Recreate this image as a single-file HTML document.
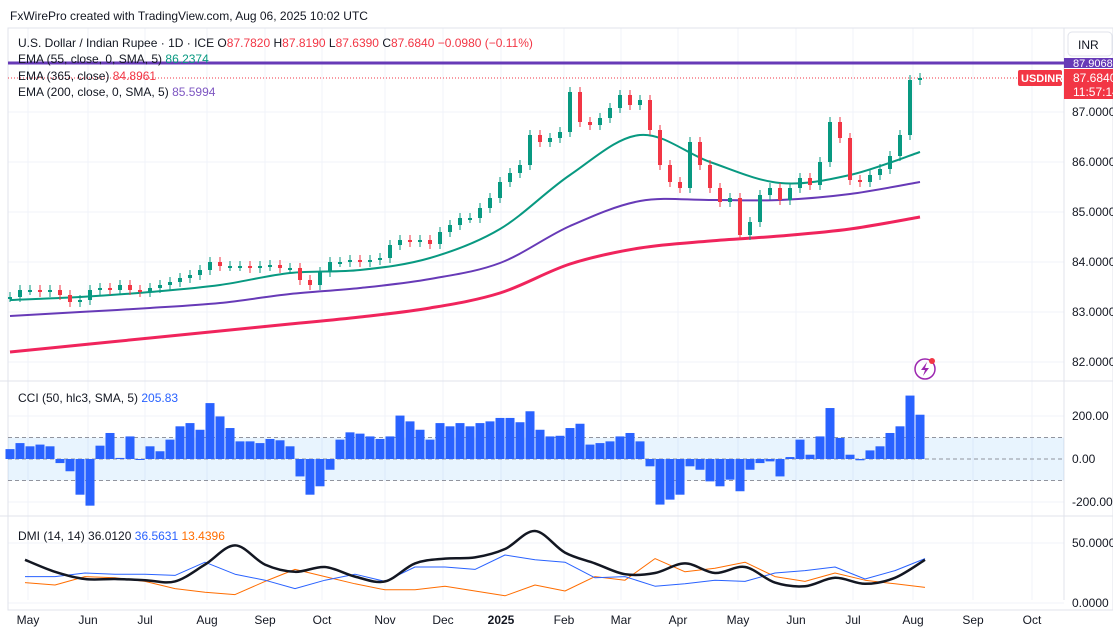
<!DOCTYPE html>
<html><head><meta charset="utf-8">
<style>
body{margin:0;background:#fff;font-family:"Liberation Sans",sans-serif;}
#wrap{position:relative;width:1113px;height:639px;overflow:hidden;}
svg text{font-family:"Liberation Sans",sans-serif;}
</style></head>
<body>
<div id="wrap">
<svg id="c" width="1113" height="639" viewBox="0 0 1113 639">
<rect x="0" y="0" width="1113" height="639" fill="#fff"/>
<text x="10" y="20" font-size="12" fill="#131722">FxWirePro created with TradingView.com, Aug 06, 2025 10:02 UTC</text>
<g id="grid"></g>
<g id="panes"></g>
<g id="marks"></g>
<g id="legend" font-size="12">
<text x="18" y="47" fill="#131722">U.S. Dollar / Indian Rupee · 1D · ICE  <tspan fill="#131722">O</tspan><tspan fill="#f23645">87.7820</tspan>  <tspan fill="#131722">H</tspan><tspan fill="#f23645">87.8190</tspan>  <tspan fill="#131722">L</tspan><tspan fill="#f23645">87.6390</tspan>  <tspan fill="#131722">C</tspan><tspan fill="#f23645">87.6840  −0.0980 (−0.11%)</tspan></text>
<text x="18" y="63" fill="#131722">EMA (55, close, 0, SMA, 5) <tspan fill="#089981">86.2374</tspan></text>
<text x="18" y="80" fill="#131722">EMA (365, close) <tspan fill="#f23645">84.8961</tspan></text>
<text x="18" y="96" fill="#131722">EMA (200, close, 0, SMA, 5) <tspan fill="#7e57c2">85.5994</tspan></text>
<text x="18" y="402" fill="#131722">CCI (50, hlc3, SMA, 5) <tspan fill="#2962ff">205.83</tspan></text>
<text x="18" y="540" fill="#131722">DMI (14, 14) <tspan fill="#131722">36.0120</tspan> <tspan fill="#2962ff">36.5631</tspan> <tspan fill="#ff6d00">13.4396</tspan></text>
</g>
<g id="axis" font-size="12" fill="#131722"></g>
<g>
<rect x="1068" y="32" width="44" height="24" rx="4" fill="#fff" stroke="#e0e3eb"/>
<text x="1078" y="49" font-size="12" fill="#131722">INR</text>
</g>
<g>
<rect x="1018" y="70" width="44" height="16" rx="2" fill="#f23645"/>
<text x="1021" y="82" font-size="11" font-weight="bold" fill="#fff">USDINR</text>
</g>
<g>
<rect x="1064" y="58" width="49" height="10" fill="#673ab7"/>
<text x="1073" y="67" font-size="11" fill="#fff">87.9068</text>
<rect x="1064" y="69" width="49" height="30" fill="#f23645"/>
<text x="1073" y="82" font-size="12" fill="#fff">87.6840</text>
<text x="1073" y="96" font-size="12" fill="#fff">11:57:14</text>
</g>
<g>
<circle cx="925" cy="369" r="10" fill="none" stroke="#9c27b0" stroke-width="1.5"/>
<path d="M927 362 L921 370 L925 370 L923 376 L929 368 L925 368 Z" fill="#9c27b0"/>
<circle cx="932" cy="361" r="3" fill="#f23645"/>
</g>
</svg>
</div>
<script>
const closes=[83.30,83.44,83.44,83.40,83.44,83.34,83.20,83.24,83.44,83.48,83.44,83.54,83.44,83.40,83.48,83.54,83.60,83.68,83.74,83.84,84.00,83.92,83.92,83.92,83.88,83.92,83.94,83.88,83.88,83.64,83.54,83.80,84.00,84.00,84.04,84.00,84.04,84.08,84.34,84.44,84.40,84.44,84.36,84.60,84.74,84.88,84.88,85.08,85.28,85.60,85.78,85.94,86.54,86.40,86.48,86.60,87.40,86.80,86.74,86.88,87.08,87.34,87.14,87.24,86.64,85.94,85.60,85.48,86.40,85.94,85.48,85.20,85.28,84.54,84.80,85.34,85.48,85.24,85.48,85.68,85.54,86.00,86.80,86.48,85.64,85.60,85.74,85.86,86.12,86.54,87.64,87.68];
const ema55=[83.24,83.30,83.40,83.54,83.78,83.84,84.08,84.66,85.74,86.54,86.00,85.58,85.74,86.20];
const ema200=[82.92,83.00,83.08,83.18,83.36,83.48,83.66,83.98,84.72,85.22,85.24,85.24,85.36,85.60];
const ema365=[82.20,82.34,82.48,82.62,82.76,82.90,83.08,83.38,83.96,84.28,84.42,84.52,84.66,84.90];
const cci=[46,74,59,67,59,-19,-57,-166,-217,62,121,5,105,-3,59,36,90,152,167,136,260,198,144,82,82,74,93,87,59,-81,-166,-127,-50,90,124,118,105,93,105,202,175,136,90,167,152,167,152,167,175,191,191,171,222,136,105,108,144,164,67,74,82,105,121,82,-34,-212,-189,-166,-34,-50,-104,-127,-96,-150,-50,-19,-11,-81,9,90,20,105,237,98,20,-6,40,59,121,152,295,206];
const adx=[36,26,20,20,19,18,32,48,32,26,30,22,18,33,37,38,45,60,42,33,24,25,33,25,30,17,14,21,16,21,36];
const diPlus=[22,22,25,24,24,23,34,24,19,12,19,24,18,30,30,28,40,36,34,21,22,14,16,19,18,25,27,30,20,27,37];
const diMinus=[17,15,22,21,18,12,9,7,18,28,22,16,11,11,14,10,6,15,10,22,19,37,26,29,34,22,18,25,19,16,13];
const priceTicks=[87,86,85,84,83,82];
const cciTicks=[200,0,-200];
const dmiTicks=[50,0];
const months=["May","Jun","Jul","Aug","Sep","Oct","Nov","Dec","2025","Feb","Mar","Apr","May","Jun","Jul","Aug","Sep","Oct"];
const monthPos=[28,88,145,207,265,322,385,443,501,564,621,678,738,796,853,913,973,1032];

const NS="http://www.w3.org/2000/svg";
function mk(tag,attrs,parent){const e=document.createElementNS(NS,tag);for(const k in attrs)e.setAttribute(k,attrs[k]);parent.appendChild(e);return e;}
const yP=p=>112+(87-p)*50;
const yC=v=>459-v*0.215;
const yD=v=>603-v*1.2;
const xDay=i=>10+i*10;
const xEma=k=>10+k*70;
const xDmi=k=>25+k*30;
const L=8,R=1064;
const grid=document.getElementById('grid'),panes=document.getElementById('panes'),marks=document.getElementById('marks'),axis=document.getElementById('axis');

monthPos.forEach(x=>{mk('line',{x1:x,x2:x,y1:28,y2:600,stroke:'#f0f3fa'},grid);});
priceTicks.forEach(p=>{mk('line',{x1:L,x2:R,y1:yP(p),y2:yP(p),stroke:'#f0f3fa'},grid);
 const t=mk('text',{x:1072,y:yP(p)+4},axis);t.textContent=p.toFixed(4);
 
 });
[200,-200].forEach(v=>mk('line',{x1:L,x2:R,y1:yC(v),y2:yC(v),stroke:'#f0f3fa'},grid));
dmiTicks.forEach(v=>mk('line',{x1:L,x2:R,y1:yD(v),y2:yD(v),stroke:'#f0f3fa'},grid));
mk('line',{x1:0,x2:1113,y1:381,y2:381,stroke:'#e0e3eb'},panes);
mk('line',{x1:0,x2:1113,y1:516,y2:516,stroke:'#e0e3eb'},panes);
mk('line',{x1:R,x2:R,y1:28,y2:600,stroke:'#e0e3eb'},panes);
mk('rect',{x:L,y:28,width:1105,height:582,fill:'none',stroke:'#e0e3eb'},panes);

mk('rect',{x:L,y:yC(100),width:R-L,height:yC(-100)-yC(100),fill:'#2196f3','fill-opacity':0.1},panes);
[100,0,-100].forEach(v=>mk('line',{x1:L,x2:R,y1:yC(v),y2:yC(v),stroke:'#787b86','stroke-dasharray':'4 3','stroke-opacity':0.8},panes));
cciTicks.forEach(v=>{const t=mk('text',{x:1072,y:yC(v)+4},axis);t.textContent=v.toFixed(2);
 
 });
dmiTicks.forEach(v=>{const t=mk('text',{x:1072,y:yD(v)+4},axis);t.textContent=v.toFixed(4);
 
 });
months.forEach((m,i)=>{const t=mk('text',{x:monthPos[i],y:624,'text-anchor':'middle','font-weight':m==='2025'?'bold':'normal'},axis);t.textContent=m;
 
 });

mk('line',{x1:L,x2:R,y1:63,y2:63,stroke:'#673ab7','stroke-width':3},marks);
mk('line',{x1:L,x2:R,y1:yP(closes[closes.length-1]),y2:yP(closes[closes.length-1]),stroke:'#f23645','stroke-dasharray':'1 2','stroke-width':1},marks);

function smoothPath(pts){let d='M'+pts[0][0].toFixed(1)+' '+pts[0][1].toFixed(1);
 for(let i=0;i<pts.length-1;i++){const p0=pts[Math.max(0,i-1)],p1=pts[i],p2=pts[i+1],p3=pts[Math.min(pts.length-1,i+2)];
  const c1x=p1[0]+(p2[0]-p0[0])/6,c1y=p1[1]+(p2[1]-p0[1])/6,c2x=p2[0]-(p3[0]-p1[0])/6,c2y=p2[1]-(p3[1]-p1[1])/6;
  d+=` C${c1x.toFixed(1)} ${c1y.toFixed(1)} ${c2x.toFixed(1)} ${c2y.toFixed(1)} ${p2[0].toFixed(1)} ${p2[1].toFixed(1)}`;}
 return d;}
function line(arr,xf,yf,color,w,name,smooth){const pts=arr.map((v,i)=>[xf(i),yf(v)]);
 const d=smooth?smoothPath(pts):pts.map((p,i)=>(i?'L':'M')+p[0].toFixed(1)+' '+p[1].toFixed(1)).join(' ');
 const p=mk('path',{d:d,fill:'none',stroke:color,'stroke-width':w,'stroke-linejoin':'round'},marks);
 
 }
line(ema365,xEma,yP,'#f0245c',3,'ema365-line',true);
line(ema200,xEma,yP,'#673ab7',2,'ema200-line',true);
line(ema55,xEma,yP,'#089981',2,'ema55-line',true);

closes.forEach((c,i)=>{const o=i?closes[i-1]:c;const up=c>=o;const col=up?'#089981':'#f23645';
 const x=xDay(i);const y1=yP(Math.max(o,c)),y2=yP(Math.min(o,c));
 const w=mk('line',{x1:x,x2:x,y1:y1-5,y2:y2+5,stroke:col,'stroke-width':1},marks);
 
 
 const b=mk('rect',{x:x-2,y:y1,width:4,height:Math.max(2,y2-y1),fill:col},marks);
 
 });

cci.forEach((v,i)=>{const x=xDay(i)-5;const y=Math.min(yC(v),yC(0));const h=Math.abs(yC(v)-yC(0));
 const r=mk('rect',{x:x+0.5,y:y,width:9,height:Math.max(1,h),fill:'#2962ff'},marks);
 
 });

line(diMinus,xDmi,yD,'#ff6d00',1,'di-minus-line',false);
line(diPlus,xDmi,yD,'#2962ff',1,'di-plus-line',false);
line(adx,xDmi,yD,'#131722',2.5,'adx-line',true);
</script>
</body></html>
